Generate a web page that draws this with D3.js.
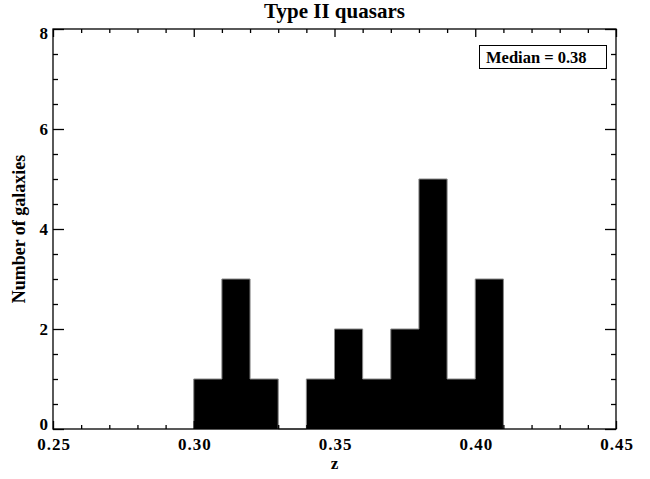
<!DOCTYPE html>
<html>
<head>
<meta charset="utf-8">
<script src="https://cdn.jsdelivr.net/npm/d3@7"></script>
<style>
  body { margin: 0; background: #fff; }
  text { font-family: "Liberation Serif", "DejaVu Serif", serif; font-weight: bold; fill: #000; }
</style>
</head>
<body>
<div id="chart"></div>
<script>
// histogram bins (left edges), width 0.01
var binStarts = [0.30, 0.31, 0.32, 0.33, 0.34, 0.35, 0.36, 0.37, 0.38, 0.39, 0.40];
var counts    = [1, 3, 1, 0, 1, 2, 1, 2, 5, 1, 3];
var binWidth = 0.01;
var xTicks = [0.25, 0.30, 0.35, 0.40, 0.45];
var yTicks = [0, 2, 4, 6, 8];
var medianLabel = "Median = 0.38";

var svgWidth = 650, svgHeight = 479,
    margin = { top: 29, right: 34, bottom: 50, left: 53 },
    width = svgWidth - margin.left - margin.right,
    height = svgHeight - margin.top - margin.bottom;

var svg = d3.select("#chart").append("svg")
    .attr("width", svgWidth)
    .attr("height", svgHeight);
var g = svg.append("g")
    .attr("transform", "translate(" + margin.left + "," + margin.top + ")");

var x = d3.scaleLinear().domain([0.25, 0.45]).range([0, width]);
var y = d3.scaleLinear().domain([0, 8]).range([height, 0]);

// histogram as one stepped shape (no seams between bins)
var steps = [];
binStarts.forEach(function (d, i) { steps.push([d, counts[i]]); });
steps.push([binStarts[binStarts.length - 1] + binWidth, counts[counts.length - 1]]);

g.append("path")
    .attr("d", d3.area()
        .x(function (d) { return x(d[0]); })
        .y0(y(0))
        .y1(function (d) { return y(d[1]); })
        .curve(d3.curveStepAfter)(steps))
    .attr("fill", "#000");

var outline = [[binStarts[0], 0]].concat(steps).concat([[steps[steps.length - 1][0], 0]]);
g.append("path")
    .attr("d", d3.line().x(function (d) { return x(d[0]); }).y(function (d) { return y(d[1]); }).curve(d3.curveStepAfter)(outline))
    .attr("fill", "none")
    .attr("stroke", "#888")
    .attr("stroke-width", 1);

// axes (IDL style box with major/minor ticks)
var xMinor = d3.range(0, 21).map(function (i) { return 0.25 + i * 0.01; });
var yMinor = d3.range(0, 17).map(function (i) { return i * 0.5; });
var axisStyle = function (sel) {
    sel.attr("font-family", null).attr("font-size", null);
    sel.select(".domain").remove();
    sel.selectAll("line").attr("stroke", "#000").attr("stroke-width", 1.3);
    sel.selectAll("text").attr("font-size", 17).attr("fill", "#000");
};

function isMajor(v, list) { return list.some(function (t) { return Math.abs(t - v) < 1e-9; }); }

// bottom
g.append("g").attr("transform", "translate(0," + height + ")")
    .call(d3.axisTop(x).tickValues(xMinor).tickFormat("").tickSizeOuter(0))
    .call(axisStyle)
    .selectAll(".tick line").attr("y2", function (d) { return isMajor(d, xTicks) ? -8 : -4; });
g.append("g").attr("transform", "translate(0," + height + ")")
    .call(d3.axisBottom(x).tickValues(xTicks).tickFormat(d3.format(".2f")).tickSize(0).tickPadding(9))
    .call(axisStyle)
    .selectAll("text").attr("letter-spacing", 1).attr("dx", 0.5);
// top
g.append("g")
    .call(d3.axisBottom(x).tickValues(xMinor).tickFormat("").tickSizeOuter(0))
    .call(axisStyle)
    .selectAll(".tick line").attr("y2", function (d) { return isMajor(d, xTicks) ? 8 : 4; });
// left
g.append("g")
    .call(d3.axisRight(y).tickValues(yMinor).tickFormat("").tickSizeOuter(0))
    .call(axisStyle)
    .selectAll(".tick line").attr("x2", function (d) { return isMajor(d, yTicks) ? 11 : 5; });
g.append("g")
    .call(d3.axisLeft(y).tickValues(yTicks).tickFormat(d3.format("d")).tickSize(0).tickPadding(5))
    .call(axisStyle)
    .selectAll("text")
    .attr("y", function (d) { return d === 0 ? -5 : (d === 8 ? 4 : 0); });
// right
g.append("g").attr("transform", "translate(" + width + ",0)")
    .call(d3.axisLeft(y).tickValues(yMinor).tickFormat("").tickSizeOuter(0))
    .call(axisStyle)
    .selectAll(".tick line").attr("x2", function (d) { return isMajor(d, yTicks) ? -11 : -5; });

// frame
g.append("rect")
    .attr("width", width).attr("height", height)
    .attr("fill", "none").attr("stroke", "#000").attr("stroke-width", 1.3);

// titles
svg.append("text")
    .attr("x", margin.left + width / 2).attr("y", 18)
    .attr("text-anchor", "middle").attr("font-size", 21)
    .text("Type II quasars");
svg.append("text")
    .attr("x", margin.left + width / 2).attr("y", 469)
    .attr("text-anchor", "middle").attr("font-size", 17)
    .text("z");
svg.append("text")
    .attr("transform", "translate(25," + (margin.top + height / 2) + ") rotate(-90)")
    .attr("text-anchor", "middle").attr("font-size", 18)
    .text("Number of galaxies");

// median box
var lg = svg.append("g");
lg.append("rect")
    .attr("x", 479.5).attr("y", 45.5).attr("width", 127).attr("height", 23)
    .attr("fill", "#fff").attr("stroke", "#000").attr("stroke-width", 1);
lg.append("text")
    .attr("x", 486).attr("y", 63)
    .attr("font-size", 16.5)
    .text(medianLabel);
</script>
</body>
</html>
